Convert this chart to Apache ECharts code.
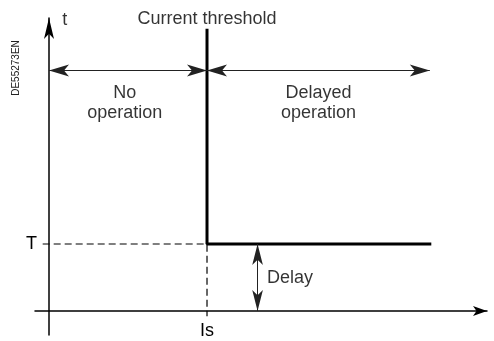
<!DOCTYPE html>
<html><head><meta charset="utf-8">
<script src="https://cdn.jsdelivr.net/npm/echarts@6/dist/echarts.min.js"></script>
<style>html,body{margin:0;padding:0;background:#fff}#c{width:494px;height:341px}</style>
</head><body><div id="c"></div>
<script>
// ---- data (conceptual units: Is = 1 on the current axis, T = 1 on the time axis)
const xTickValues = [1];
const xTickLabels = ['Is'];
const yTickValues = [1];
const yTickLabels = ['T'];
const thresholdIs = 1;
const delayT = 1;
const curveTop = 4.19;
const curveEnd = 2.41;
const curveX = [thresholdIs, thresholdIs, curveEnd];
const curveY = [curveTop, delayT, delayT];
const zoneArrowY = 3.59;
const delayArrowX = 1.32;
const zoneNames = ['No\noperation', 'Delayed\noperation'];
const titleText = 'Current threshold';
const axisNameT = 't';
const delayText = 'Delay';
const docRef = 'DE55273EN';

const FONT = '"Liberation Sans", Arial, Helvetica, sans-serif';
const curve = curveX.map((x, i) => [x, curveY[i]]);
const arrowCommon = {
  silent: true, animation: false,
  symbol: ['arrow', 'arrow'],
  label: {show: false},
  emphasis: {disabled: true},
  lineStyle: {type: 'solid', color: '#222', width: 1}
};
const chart = echarts.init(document.getElementById('c'), null, {renderer: 'canvas'});
chart.setOption({
  animation: false,
  backgroundColor: '#fff',
  grid: {left: 35, right: 7, top: 18, bottom: 6, containLabel: false, outerBoundsMode: 'none'},
  xAxis: {
    type: 'value', min: -0.0886, max: 2.772,
    axisLine: {onZero: true, symbol: ['none', 'arrow'], symbolSize: [7.5, 14], lineStyle: {color: '#000', width: 1.5}},
    axisTick: {show: false}, splitLine: {show: false},
    axisLabel: {customValues: xTickValues, formatter: v => xTickLabels[xTickValues.indexOf(v)] || '', margin: -13, fontSize: 18, color: '#000', fontFamily: FONT}
  },
  yAxis: {
    type: 'value', min: -0.358, max: 4.373,
    axisLine: {onZero: true, symbol: ['none', 'arrow'], symbolSize: [7.5, 21], lineStyle: {color: '#000', width: 1.5}},
    axisTick: {show: false}, splitLine: {show: false},
    axisLabel: {customValues: yTickValues, formatter: v => yTickLabels[yTickValues.indexOf(v)] || '', margin: -2, fontSize: 18, color: '#000', fontFamily: FONT}
  },
  graphic: [{
    type: 'text', x: 16, y: 68, rotation: Math.PI / 2,
    style: {text: docRef, fontSize: 10, fill: '#222', fontFamily: FONT, align: 'center', verticalAlign: 'middle'}
  }],
  series: [
    {
      type: 'line', silent: true, symbol: 'none', z: 2,
      data: [[-0.04, delayT], [thresholdIs, delayT], [thresholdIs, -0.08]],
      lineStyle: {type: [7, 4], width: 1.2, color: '#000'}
    },
    {
      type: 'line', silent: true, symbol: 'none', z: 3,
      data: curve,
      lineStyle: {width: 3, color: '#000', cap: 'square'}
    },
    {
      type: 'line', data: [], silent: true,
      markLine: Object.assign({}, arrowCommon, {
        symbolSize: [9, 20],
        data: [
          [{coord: [0, zoneArrowY]}, {coord: [thresholdIs, zoneArrowY]}],
          [{coord: [thresholdIs, zoneArrowY]}, {coord: [curveEnd, zoneArrowY]}]
        ]
      })
    },
    {
      type: 'line', data: [], silent: true,
      markLine: Object.assign({}, arrowCommon, {
        symbolSize: [8, 21],
        data: [[{coord: [delayArrowX, delayT]}, {coord: [delayArrowX, 0]}]]
      })
    },
    {
      type: 'scatter', silent: true, symbolSize: 1, itemStyle: {color: 'rgba(0,0,0,0)'},
      label: {show: true, position: 'inside', formatter: '{b}', fontSize: 18, lineHeight: 20, color: '#000', fontFamily: FONT, align: 'center', verticalAlign: 'middle'},
      data: [
        {name: titleText, value: [thresholdIs, 4.36]},
        {name: axisNameT, value: [0.10, 4.34]},
        {name: zoneNames[0], value: [thresholdIs * 0.48, 3.10]},
        {name: zoneNames[1], value: [(thresholdIs + curveEnd) / 2, 3.10]},
        {name: delayText, value: [1.38, 0.49], label: {align: 'left'}}
      ]
    }
  ]
});
</script></body></html>
